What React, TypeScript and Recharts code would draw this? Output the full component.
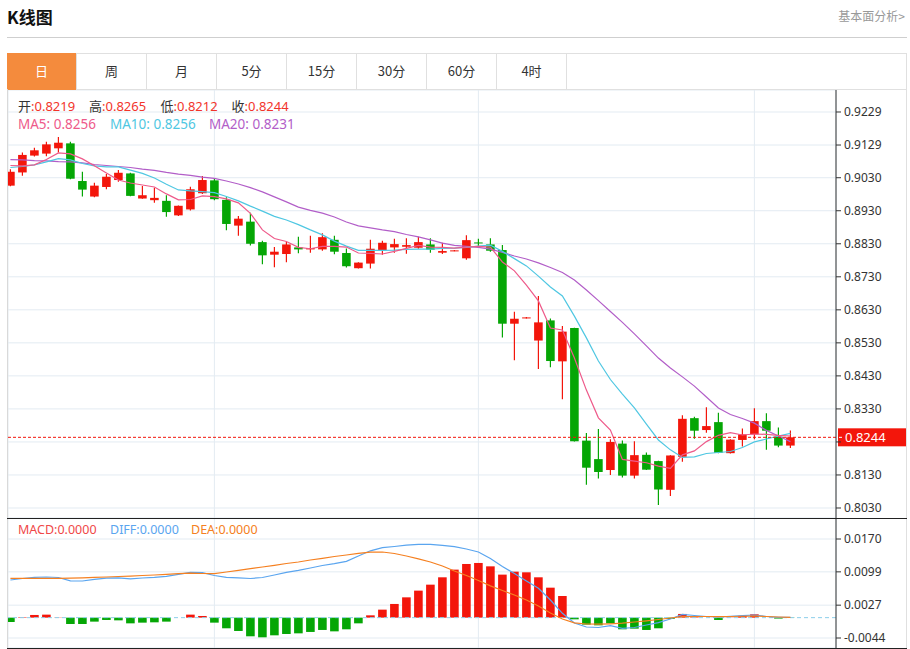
import React from 'react';
import { ComposedChart, Bar, Line, XAxis, YAxis, CartesianGrid, ReferenceLine } from 'recharts';

// ---------- data ----------
const opens = [0.9006,0.9046,0.9097,0.9103,0.9119,0.9134,0.9020,0.8973,0.9002,0.9023,
0.9043,0.8967,0.8962,0.8960,0.8916,0.8934,0.8983,0.9022,0.8963,0.8885,
0.8897,0.8835,0.8797,0.8799,0.8819,0.8813,0.8813,0.8842,0.8802,0.8756,
0.8770,0.8811,0.8819,0.8821,0.8818,0.8828,0.8803,0.8808,0.8786,0.8834,
0.8828,0.8811,0.8588,0.8605,0.8537,0.8598,0.8474,0.8575,0.8234,0.8178,
0.8145,0.8225,0.8128,0.8191,0.8172,0.8085,0.8185,0.8302,0.8266,0.8290,
0.8196,0.8236,0.8253,0.8293,0.8246,0.8219];
const highs = [0.9056,0.9106,0.9121,0.9139,0.9153,0.9139,0.9048,0.9015,0.9041,0.9053,
0.9045,0.9005,0.9000,0.8977,0.8946,0.9003,0.9035,0.9029,0.8971,0.8914,
0.8924,0.8839,0.8820,0.8835,0.8851,0.8854,0.8862,0.8854,0.8816,0.8774,
0.8842,0.8839,0.8845,0.8847,0.8851,0.8847,0.8833,0.8811,0.8856,0.8845,
0.8847,0.8826,0.8624,0.8608,0.8672,0.8604,0.8581,0.8576,0.8257,0.8269,
0.8238,0.8234,0.8232,0.8198,0.8173,0.8190,0.8311,0.8306,0.8335,0.8318,
0.8238,0.8271,0.8332,0.8317,0.8274,0.8265];
const lows = [0.9004,0.9036,0.9094,0.9095,0.9106,0.9025,0.8973,0.8971,0.8995,0.9018,
0.8974,0.8966,0.8954,0.8912,0.8914,0.8931,0.8981,0.8962,0.8871,0.8854,
0.8825,0.8768,0.8759,0.8774,0.8801,0.8803,0.8809,0.8798,0.8758,0.8755,
0.8755,0.8797,0.8803,0.8800,0.8815,0.8803,0.8799,0.8807,0.8782,0.8820,
0.8806,0.8546,0.8477,0.8604,0.8451,0.8456,0.8359,0.8231,0.8100,0.8119,
0.8130,0.8122,0.8119,0.8145,0.8039,0.8066,0.8170,0.8240,0.8258,0.8196,
0.8195,0.8216,0.8238,0.8206,0.8214,0.8212];
const closes = [0.9048,0.9099,0.9113,0.9131,0.9136,0.9027,0.8994,0.9006,0.9033,0.9045,
0.8975,0.8977,0.8969,0.8926,0.8945,0.8995,0.9023,0.8965,0.8890,0.8906,
0.8830,0.8795,0.8806,0.8828,0.8813,0.8817,0.8850,0.8806,0.8762,0.8773,
0.8815,0.8833,0.8829,0.8826,0.8835,0.8812,0.8808,0.8810,0.8841,0.8833,
0.8809,0.8588,0.8603,0.8607,0.8592,0.8475,0.8564,0.8232,0.8152,0.8139,
0.8230,0.8128,0.8190,0.8146,0.8086,0.8189,0.8300,0.8264,0.8278,0.8197,
0.8237,0.8253,0.8293,0.8264,0.8219,0.8244];
const ma5 = [0.9067,0.9066,0.9069,0.9085,0.9105,0.9102,0.9087,0.9066,0.9044,0.9023,
0.9014,0.9008,0.9002,0.8981,0.8963,0.8964,0.8975,0.8973,0.8966,0.8954,
0.8922,0.8872,0.8846,0.8837,0.8819,0.8815,0.8822,0.8822,0.8820,0.8802,
0.8801,0.8799,0.8807,0.8816,0.8825,0.8820,0.8819,0.8817,0.8820,0.8822,
0.8820,0.8775,0.8748,0.8705,0.8657,0.8575,0.8569,0.8484,0.8387,0.8303,
0.8266,0.8177,0.8172,0.8167,0.8157,0.8150,0.8191,0.8203,0.8231,0.8250,
0.8258,0.8251,0.8254,0.8253,0.8250,0.8248];
const ma10 = [0.9061,0.9064,0.9069,0.9078,0.9088,0.9084,0.9073,0.9066,0.9063,0.9063,
0.9053,0.9043,0.9029,0.9010,0.8993,0.8990,0.8988,0.8985,0.8973,0.8960,
0.8944,0.8929,0.8913,0.8902,0.8888,0.8872,0.8857,0.8838,0.8823,0.8810,
0.8810,0.8810,0.8811,0.8813,0.8814,0.8814,0.8816,0.8817,0.8819,0.8823,
0.8826,0.8807,0.8785,0.8763,0.8732,0.8699,0.8672,0.8611,0.8545,0.8475,
0.8419,0.8375,0.8333,0.8284,0.8236,0.8206,0.8183,0.8185,0.8195,0.8198,
0.8201,0.8213,0.8230,0.8239,0.8248,0.8256];
const ma20 = [0.9085,0.9084,0.9082,0.9081,0.9079,0.9078,0.9075,0.9070,0.9067,0.9064,
0.9061,0.9056,0.9052,0.9046,0.9041,0.9037,0.9032,0.9028,0.9020,0.9011,
0.9000,0.8987,0.8972,0.8957,0.8941,0.8931,0.8923,0.8911,0.8896,0.8884,
0.8878,0.8872,0.8867,0.8858,0.8851,0.8842,0.8832,0.8825,0.8822,0.8819,
0.8814,0.8804,0.8793,0.8784,0.8772,0.8758,0.8743,0.8720,0.8690,0.8658,
0.8625,0.8592,0.8557,0.8521,0.8484,0.8454,0.8427,0.8399,0.8366,0.8333,
0.8313,0.8301,0.8287,0.8265,0.8248,0.8231];
const macdHist = [-0.00094,0.0001,0.00058,0.00065,0.00005,-0.00137,-0.00137,-0.00086,-0.0005,-0.00058,
-0.00123,-0.00108,-0.00101,-0.00086,0,0.00065,0.00036,-0.00108,-0.0023,-0.00288,
-0.00403,-0.00425,-0.00382,-0.00353,-0.00339,-0.00309,-0.00266,-0.00296,-0.00252,-0.00123,
0.0005,0.00173,0.00296,0.00439,0.00584,0.00713,0.00872,0.01038,0.0116,0.01182,
0.01109,0.0093,0.00994,0.0098,0.00872,0.00648,0.00468,-0.00036,-0.00151,-0.00166,
-0.00123,-0.00252,-0.00238,-0.00266,-0.0023,-0.00029,0.0008,0.0001,0,-0.0005,
0.00005,0.0004,0.00072,0,-0.0002,-0.00005];
const diffs = [0.00814,0.00846,0.00872,0.00879,0.00868,0.00795,0.00792,0.00829,0.00853,0.00861,
0.00838,0.00857,0.00872,0.00894,0.00937,0.0098,0.00972,0.00911,0.00872,0.00861,
0.00846,0.00868,0.00922,0.0098,0.01021,0.01073,0.01127,0.01168,0.01218,0.01333,
0.01445,0.01512,0.01538,0.01566,0.01585,0.01585,0.01564,0.01534,0.01484,0.01419,
0.01278,0.01106,0.00954,0.00792,0.00634,0.00381,0.00094,-0.00116,-0.00202,-0.00213,
-0.00174,-0.0023,-0.00213,-0.00159,-0.00109,-0.00029,0.00072,0.00046,0.00025,0.00014,
0.00029,0.00042,0.00057,0.00025,0.00007,0.00007];
const deas = [0.0085,0.0085,0.0085,0.0085,0.0085,0.00853,0.00861,0.00872,0.00879,0.0089,
0.00898,0.00911,0.00922,0.00937,0.0095,0.00961,0.00954,0.00952,0.00987,0.01023,
0.01058,0.01095,0.01131,0.0117,0.01203,0.01246,0.01283,0.01322,0.01354,0.01391,
0.01415,0.01419,0.01387,0.01333,0.01272,0.01203,0.01116,0.01008,0.00911,0.00803,
0.00688,0.00587,0.0049,0.00381,0.00252,0.0010,-0.00029,-0.00111,-0.00137,-0.00142,
-0.00133,-0.0012,-0.00094,-0.00068,-0.0004,-0.00008,0.00021,0.00025,0.00025,0.00021,
0.00025,0.0003,0.00036,0.00025,0.00014,0.00007];

const monthStarts = [17, 39, 62];
const priceTicks = [0.8030, 0.8130, 0.8230, 0.8330, 0.8430, 0.8530, 0.8630, 0.8730, 0.8830, 0.8930, 0.9030, 0.9129, 0.9229];
const macdTicks = [-0.0044, 0.0027, 0.0099, 0.0170];
const tabs = ['日', '周', '月', '5分', '15分', '30分', '60分', '4时'];
const maLegend = ['0.8256', '0.8256', '0.8231'];
const macdLegend = ['0.0000', '0.0000', '0.0000'];

// ---------- styles ----------
const RED = '#f3160b';
const GREEN = '#05a605';
const C_MA5 = '#ee5a8a';
const C_MA10 = '#4fc7e2';
const C_MA20 = '#b25ec8';
const C_DIFF = '#5aa5ef';
const C_DEA = '#f58021';
const GRID = '#e3ebf2';
const ORANGE = '#f48b3d';
const FONT = '"Noto Sans", "Noto Sans CJK SC", sans-serif';
const CJK = '"Noto Sans CJK SC", "Noto Sans", sans-serif';
const BODY_W = 8.6;
const X_DOMAIN: [number, number] = [-0.2, 68.8];

const kData = opens.map((o, i) => ({
  i, open: o, high: highs[i], low: lows[i], close: closes[i],
  range: [lows[i], highs[i]], ma5: ma5[i], ma10: ma10[i], ma20: ma20[i],
}));
const macdData = macdHist.map((m, i) => ({ i, macd: m, diff: diffs[i], dea: deas[i] }));
const last = kData[kData.length - 1];

const Candle = (props: any) => {
  const { x, y, width, height, payload } = props;
  if (!payload || x == null || y == null) return null;
  const top = Math.min(y, y + height);
  const h = Math.abs(height);
  const span = payload.high - payload.low;
  const toY = (v: number) => top + (span ? ((payload.high - v) / span) * h : 0);
  const up = payload.close > payload.open;
  const c = up ? RED : GREEN;
  const cx = x + width / 2;
  const bTop = toY(Math.max(payload.open, payload.close));
  const bBot = toY(Math.min(payload.open, payload.close));
  return (
    <g>
      <line x1={cx} x2={cx} y1={top} y2={top + h} stroke={c} strokeWidth={1.2} />
      <rect x={cx - BODY_W / 2} y={bTop} width={BODY_W} height={Math.max(1, bBot - bTop)} fill={c} />
    </g>
  );
};

const MacdBar = (props: any) => {
  const { x, y, width, height, payload } = props;
  if (!payload || x == null || y == null) return null;
  const top = Math.min(y, y + height);
  const h = Math.abs(height);
  if (h < 0.2) return null;
  const cx = x + width / 2;
  return <rect x={cx - BODY_W / 2} y={top} width={BODY_W} height={h} fill={payload.macd >= 0 ? RED : GREEN} />;
};

const AxisTick = (props: any) => {
  const { x, y, payload, skip } = props;
  if (skip != null && Math.abs(payload.value - skip) < 1e-7) return null;
  return (
    <text x={x} y={y} dy={4} fill="#333" fontSize={12} fontFamily={FONT} textAnchor="start">
      {Number(payload.value).toFixed(4)}
    </text>
  );
};

const PriceTag = (props: any) => {
  const vb = props.viewBox || {};
  const x0 = (vb.x || 0) + (vb.width || 0) + 2;
  const yc = vb.y || 0;
  return (
    <g>
      <rect x={x0} y={yc - 9} width={69} height={18} fill={RED} />
      <line x1={x0 + 1} x2={x0 + 4} y1={yc} y2={yc} stroke="#fff" strokeWidth={1} />
      <text x={x0 + 7} y={yc + 4.5} fill="#fff" fontSize={13} fontFamily={FONT}>{last.close.toFixed(4)}</text>
    </g>
  );
};

const abs = (s: React.CSSProperties): React.CSSProperties => ({ position: 'absolute', ...s });

export default function App() {
  return (
    <div style={abs({ left: 0, top: 0, width: 910, height: 649, background: '#fff', fontFamily: FONT, overflow: 'hidden' })}>
      {/* header */}
      <div style={abs({ left: 7, top: 6, fontSize: 17, fontWeight: 700, color: '#111', lineHeight: '22px', fontFamily: CJK })}>K线图</div>
      <div style={abs({ right: 5, top: 8, fontSize: 12, color: '#999', lineHeight: '16px', fontFamily: CJK })}>基本面分析&gt;</div>
      <div style={abs({ left: 7, top: 37, width: 900, height: 1, background: '#cfcfcf' })} />

      {/* tabs */}
      <div style={abs({ left: 7, top: 53, width: 900, height: 37, border: '1px solid #e0e0e0', boxSizing: 'border-box' })} />
      {tabs.map((t, k) => (
        <div key={t} style={abs({
          left: 7 + k * 70, top: 53, width: 70, height: 37, boxSizing: 'border-box',
          background: k === 0 ? ORANGE : 'transparent', color: k === 0 ? '#fff' : '#333',
          borderRight: '1px solid #e0e0e0', fontSize: 13, lineHeight: '36px', textAlign: 'center', fontFamily: CJK,
        })}>{t}</div>
      ))}

      {/* main K chart */}
      <div style={abs({ left: 0, top: 90 })}>
        <ComposedChart width={910} height={428} data={kData} margin={{ top: 0, right: 0, bottom: 0, left: 8 }}>
          <CartesianGrid stroke={GRID} strokeWidth={1} />
          <XAxis type="number" dataKey="i" domain={X_DOMAIN} ticks={monthStarts} allowDataOverflow hide />
          <YAxis orientation="right" width={74} domain={[0.79997, 0.92956]} ticks={priceTicks} allowDataOverflow
            axisLine={{ stroke: '#333' }} tickLine={{ stroke: '#333' }} tickSize={5} tickMargin={3}
            tick={<AxisTick skip={0.823} />} interval={0} />
          <Bar dataKey="range" barSize={10} shape={<Candle />} isAnimationActive={false} />
          <Line dataKey="ma20" stroke={C_MA20} strokeWidth={1.2} dot={false} activeDot={false} isAnimationActive={false} />
          <Line dataKey="ma10" stroke={C_MA10} strokeWidth={1.2} dot={false} activeDot={false} isAnimationActive={false} />
          <Line dataKey="ma5" stroke={C_MA5} strokeWidth={1.2} dot={false} activeDot={false} isAnimationActive={false} />
          <ReferenceLine y={last.close} stroke={RED} strokeDasharray="3 2" strokeWidth={1} label={<PriceTag />} />
        </ComposedChart>
      </div>

      {/* MACD chart */}
      <div style={abs({ left: 0, top: 518 })}>
        <ComposedChart width={910} height={130} data={macdData} margin={{ top: 0, right: 0, bottom: 0, left: 8 }}>
          <CartesianGrid stroke={GRID} strokeWidth={1} />
          <XAxis type="number" dataKey="i" domain={X_DOMAIN} ticks={monthStarts} allowDataOverflow hide />
          <YAxis orientation="right" width={74} domain={[-0.00656, 0.02154]} ticks={macdTicks} allowDataOverflow
            axisLine={{ stroke: '#333' }} tickLine={{ stroke: '#333' }} tickSize={5} tickMargin={3}
            tick={<AxisTick />} interval={0} />
          <ReferenceLine y={0} stroke="#8ccfea" strokeDasharray="4 3" strokeWidth={1} />
          <Bar dataKey="macd" barSize={10} shape={<MacdBar />} isAnimationActive={false} />
          <Line dataKey="diff" stroke={C_DIFF} strokeWidth={1.2} dot={false} activeDot={false} isAnimationActive={false} />
          <Line dataKey="dea" stroke={C_DEA} strokeWidth={1.2} dot={false} activeDot={false} isAnimationActive={false} />
        </ComposedChart>
      </div>

      {/* frame lines */}
      <div style={abs({ left: 7, top: 89, width: 1, height: 559, background: '#d9d9d9' })} />
      <div style={abs({ left: 906, top: 89, width: 1, height: 559, background: '#e0e0e0' })} />
      <div style={abs({ left: 7, top: 517.5, width: 900, height: 1.3, background: '#222' })} />
      <div style={abs({ left: 7, top: 647.5, width: 900, height: 1.3, background: '#222' })} />

      {/* legends */}
      {[['开', last.open], ['高', last.high], ['低', last.low], ['收', last.close]].map(([lab, v], k) => (
        <div key={String(lab)} style={abs({ left: [18, 89, 160.5, 231.5][k], top: 96, fontSize: 13, lineHeight: '19px', whiteSpace: 'nowrap' })}>
          <span style={{ color: '#333', fontFamily: CJK }}>{lab}</span>
          <span style={{ color: '#f2342a' }}>:{Number(v).toFixed(4)}</span>
        </div>
      ))}
      {[['MA5', C_MA5], ['MA10', C_MA10], ['MA20', C_MA20]].map(([lab, c], k) => (
        <div key={lab} style={abs({ left: [18, 110, 209][k], top: 114.5, fontSize: 13.5, lineHeight: '19px', color: c, whiteSpace: 'nowrap' })}>
          {lab}: {maLegend[k]}
        </div>
      ))}
      {[['MACD', '#f04848'], ['DIFF', C_DIFF], ['DEA', C_DEA]].map(([lab, c], k) => (
        <div key={lab} style={abs({ left: [18, 110, 191][k], top: 520.5, fontSize: 12.5, lineHeight: '18px', color: c, whiteSpace: 'nowrap' })}>
          {lab}:{macdLegend[k]}
        </div>
      ))}
    </div>
  );
}
